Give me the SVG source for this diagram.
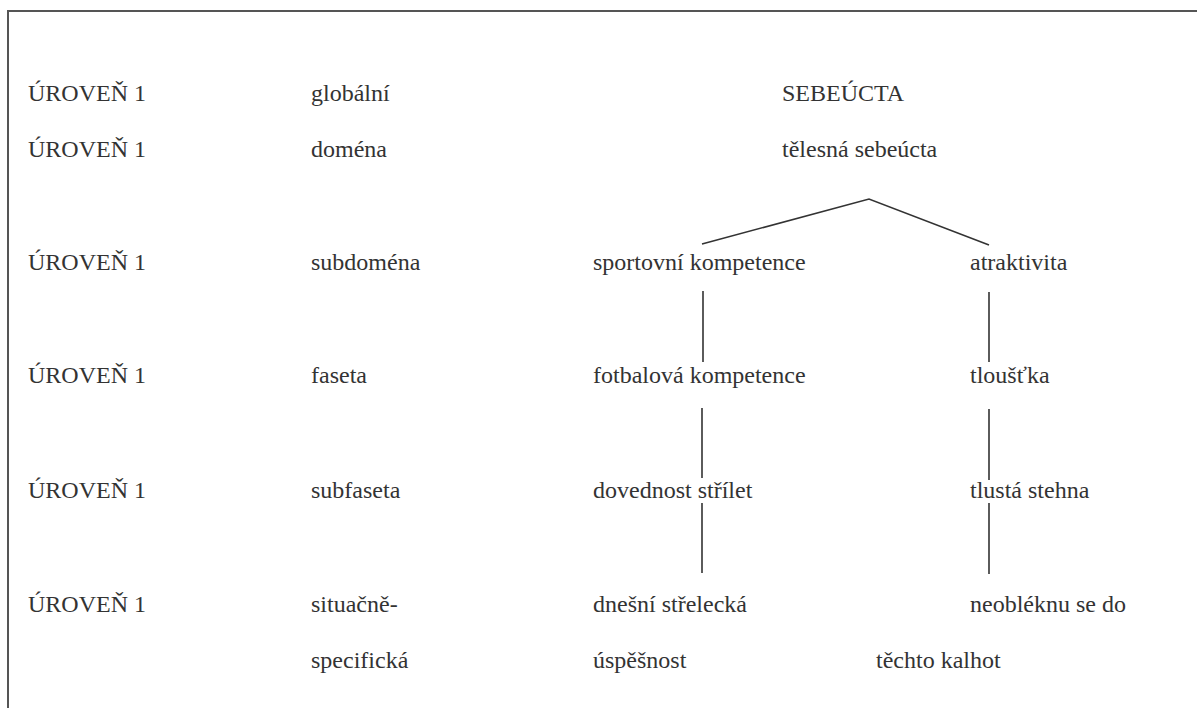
<svg xmlns="http://www.w3.org/2000/svg" width="1197" height="708" viewBox="0 0 1197 708">
<style>
.t { font-family: 'Liberation Serif', 'Times New Roman', 'DejaVu Serif', serif; font-size: 24px; fill: #333333; }
.ln { stroke: #333; stroke-width: 1.6; fill: none; }
.frame { stroke: #555; stroke-width: 2; fill: none; }
</style>
<rect x="0" y="0" width="1197" height="708" fill="#fff"/>
<path class="frame" d="M8 708 V11 H1197"/>
<g class="t">
<g id="levels">
<text x="28" y="101">ÚROVEŇ 1</text>
<text x="28" y="157">ÚROVEŇ 1</text>
<text x="28" y="270">ÚROVEŇ 1</text>
<text x="28" y="383">ÚROVEŇ 1</text>
<text x="28" y="498">ÚROVEŇ 1</text>
<text x="28" y="612">ÚROVEŇ 1</text>
</g>
<g id="names">
<text x="311" y="101">globální</text>
<text x="311" y="157">doména</text>
<text x="311" y="270">subdoména</text>
<text x="311" y="383">faseta</text>
<text x="311" y="498">subfaseta</text>
<text x="311" y="612">situačně-</text>
<text x="311" y="668">specifická</text>
</g>
<g id="n-sebeucta"><text x="782" y="101">SEBEÚCTA</text></g>
<g id="n-telesna"><text x="782" y="157">tělesná sebeúcta</text></g>
<g id="n-sportovni"><text x="593" y="270">sportovní kompetence</text></g>
<g id="n-atraktivita"><text x="970" y="270">atraktivita</text></g>
<g id="n-fotbalova"><text x="593" y="383">fotbalová kompetence</text></g>
<g id="n-tloustka"><text x="970" y="383">tloušťka</text></g>
<g id="n-dovednost"><text x="593" y="498">dovednost střílet</text></g>
<g id="n-stehna"><text x="970" y="498">tlustá stehna</text></g>
<g id="n-dnesni"><text x="593" y="612">dnešní střelecká</text><text x="593" y="668">úspěšnost</text></g>
<g id="n-neobleknu"><text x="970" y="612">neobléknu se do</text><text x="876" y="668">těchto kalhot</text></g>
</g>
<g id="connectors">
<path class="ln" d="M702 244 L869 199 L989 245"/>
<line class="ln" x1="703" y1="291" x2="703" y2="362"/>
<line class="ln" x1="989" y1="292" x2="989" y2="362"/>
<line class="ln" x1="702" y1="408" x2="702" y2="478"/>
<line class="ln" x1="989" y1="409" x2="989" y2="480"/>
<line class="ln" x1="702" y1="503" x2="702" y2="573"/>
<line class="ln" x1="989" y1="503" x2="989" y2="574"/>
</g>
</svg>
